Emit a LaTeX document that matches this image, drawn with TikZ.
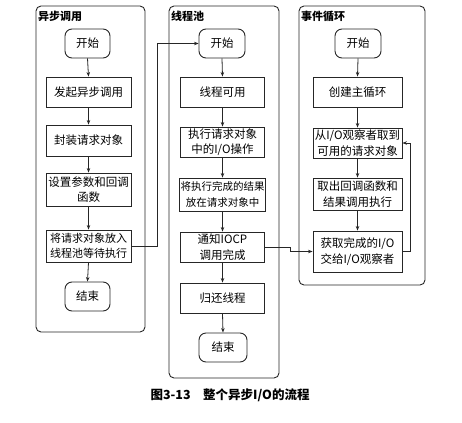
\documentclass[tikz,border=0pt]{standalone}
\usepackage{fontspec}
\setmainfont{Noto Sans CJK SC}
\usetikzlibrary{arrows.meta}
\begin{document}
\begin{tikzpicture}[x=1pt,y=-1pt,
  panel/.style={draw=black!85,line width=0.9pt,rounded corners=5pt},
  ptitle/.style={anchor=west,font=\fontsize{11}{12}\selectfont\bfseries,inner sep=0pt},
  stepbox/.style={draw=black!85,line width=0.9pt,align=center,inner sep=1pt,
    font=\fontsize{11.5}{15.5}\selectfont,minimum height=30pt},
  term/.style={stepbox,rounded corners=7pt,minimum width=45pt,minimum height=29pt},
  arr/.style={draw=black!85,line width=0.8pt,-{Stealth[length=4.5pt,width=3.5pt]}}
]
\useasboundingbox (0,0) rectangle (462,422);
% panels
\draw[panel] (36,6) rectangle (145,332);
\draw[panel] (169,6) rectangle (279,378);
\draw[panel] (299,6) rectangle (425,285);
\node[ptitle] (t1) at (38,16) {异步调用};
\node[ptitle] (t2) at (171,16) {线程池};
\node[ptitle] (t3) at (301,16) {事件循环};
% left
\node[term] (L1) at (87.5,43.5) {开始};
\node[stepbox,minimum width=85pt] (L2) at (88.5,92) {发起异步调用};
\node[stepbox,minimum width=85pt,minimum height=31pt] (L3) at (88.5,140.5) {封装请求对象};
\node[stepbox,minimum width=85pt,minimum height=33pt] (L4) at (88.5,189.5) {设置参数和回调\\函数};
\node[stepbox,minimum width=85pt,minimum height=32pt,font=\fontsize{11}{15.5}\selectfont] (L5) at (88.5,246) {将请求对象放入\\线程池等待执行};
\node[term] (L6) at (87.5,296.5) {结束};
% middle
\node[term,minimum width=46pt] (M1) at (222,43.5) {开始};
\node[stepbox,minimum width=84pt] (M2) at (222.5,92) {线程可用};
\node[stepbox,minimum width=84pt] (M3) at (222.5,142) {执行请求对象\\中的I/O操作};
\node[stepbox,minimum width=84pt,minimum height=33pt,font=\fontsize{10.5}{15.5}\selectfont] (M4) at (222.5,194.5) {将执行完成的结果\\放在请求对象中};
\node[stepbox,minimum width=84pt] (M5) at (222.5,247) {通知IOCP\\调用完成};
\node[stepbox,minimum width=84pt] (M6) at (222.5,298) {归还线程};
\node[term,minimum width=48pt] (M7) at (223,347.5) {结束};
% right
\node[term,minimum width=46pt] (R1) at (358,43.5) {开始};
\node[stepbox,minimum width=89pt] (R2) at (357.5,92) {创建主循环};
\node[stepbox,minimum width=89pt] (R3) at (357.5,143) {从I/O观察者取到\\可用的请求对象};
\node[stepbox,minimum width=89pt,minimum height=32pt] (R4) at (357.5,194) {取出回调函数和\\结果调用执行};
\node[stepbox,minimum width=89pt,minimum height=41pt] (R5) at (357.5,251.5) {获取完成的I/O\\交给I/O观察者};
% caption
\node[font=\fontsize{12.5}{14}\selectfont\bfseries] (cap) at (230,395) {图3-13\quad 整个异步I/O的流程};
% vertical arrows
\foreach \a/\b in {L1/L2,L2/L3,L3/L4,L4/L5,L5/L6,M1/M2,M2/M3,M3/M4,M4/M5,M5/M6,M6/M7,R1/R2,R2/R3,R3/R4,R4/R5}
  \draw[arr] (\a.south) -- (\b.north);
% cross connectors
\coordinate (c1) at (157,246);
\coordinate (c2) at (157,43.5);
\draw[arr] (L5.east) -- (c1) -- (c2) -- (M1.west);
\coordinate (c3) at (290,247);
\coordinate (c4) at (290,251.5);
\draw[arr] (M5.east) -- (c3) -- (c4) -- (R5.west);
\coordinate (c5) at (410,251.5);
\coordinate (c6) at (410,143);
\draw[arr] (R5.east) -- (c5) -- (c6) -- (R3.east);
\end{tikzpicture}
\end{document}
